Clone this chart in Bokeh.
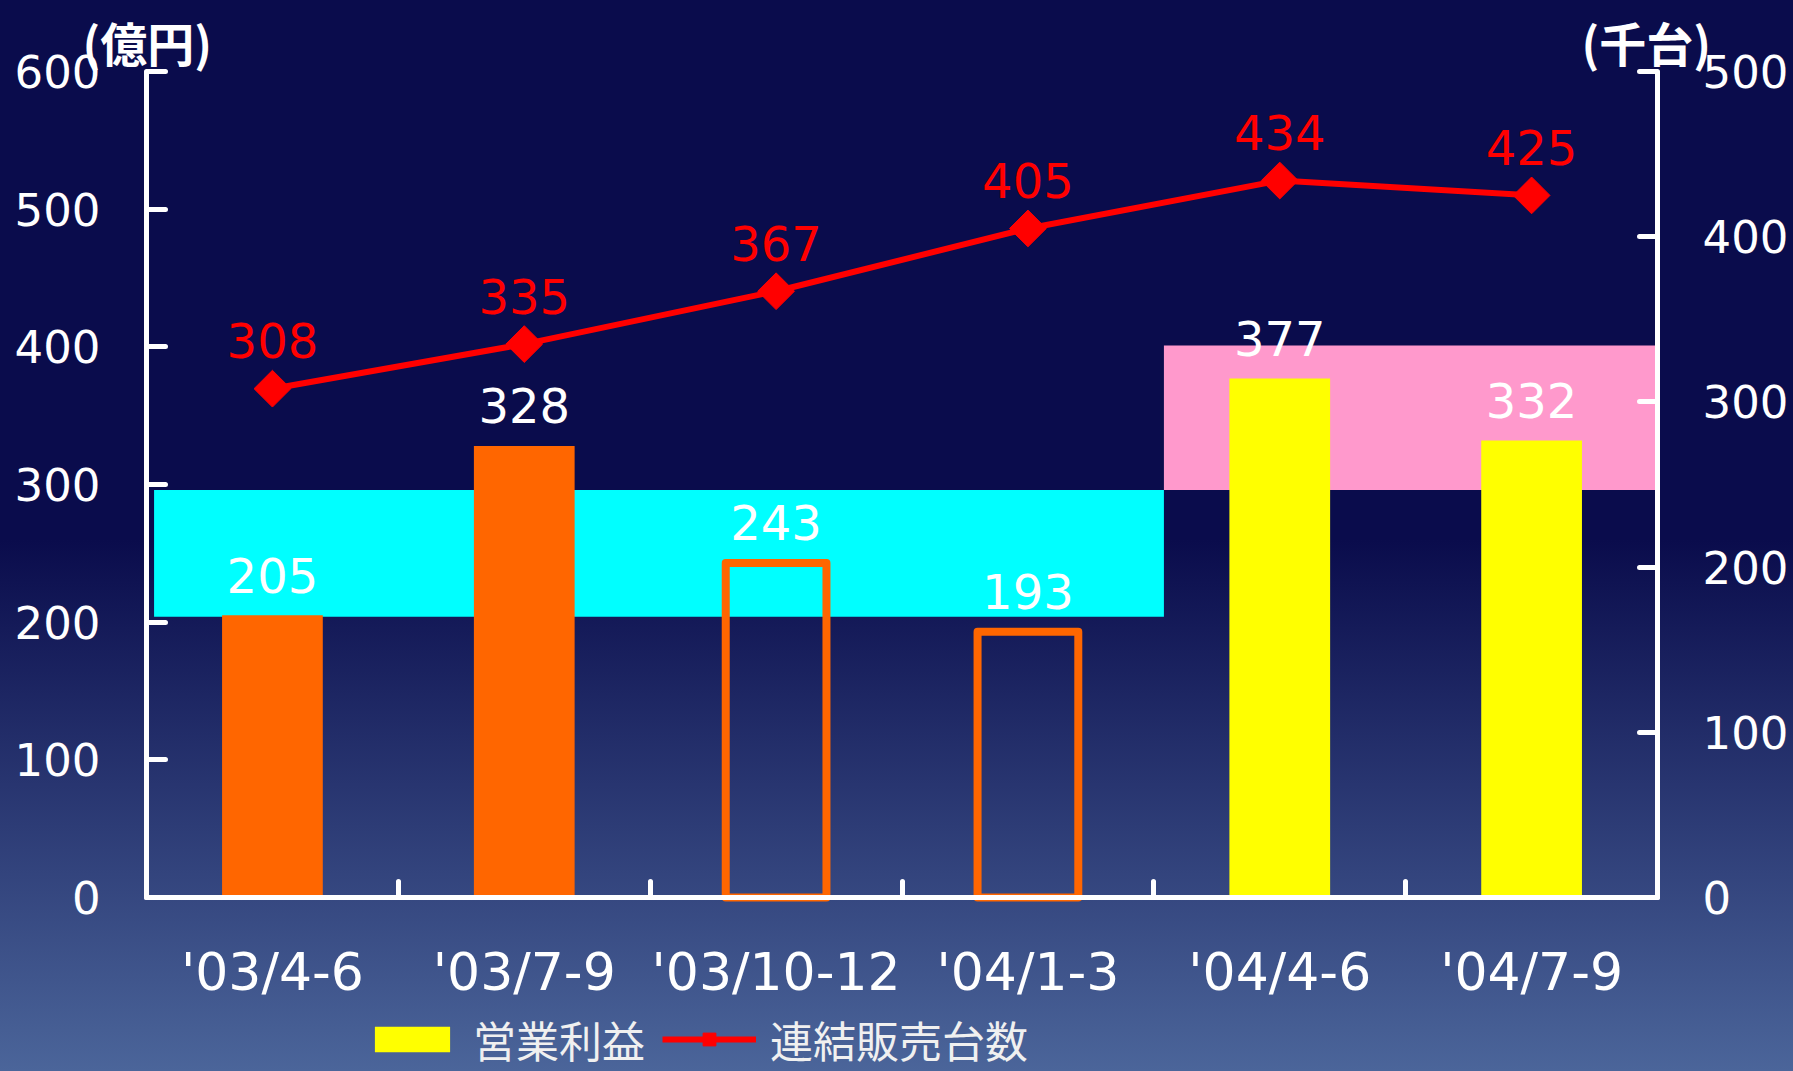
import math
from bokeh.plotting import figure
from bokeh.models import (Range1d, LinearAxis, FixedTicker, Legend, LegendItem,
                          Label, ColumnDataSource)
from bokeh.core.properties import value
from bokeh.embed import file_html
from bokeh.resources import INLINE

# ---------------- data ----------------
categories = ["'03/4-6", "'03/7-9", "'03/10-12", "'04/1-3", "'04/4-6", "'04/7-9"]
operating_profit = [205, 328, 243, 193, 377, 332]      # 億円 (left axis)
units_sold = [308, 335, 367, 405, 434, 425]            # 千台 (right axis)
bar_colors = ["#ff6600", "#ff6600", "#ff6600", "#ff6600", "#ffff00", "#ffff00"]
bar_fill_alpha = [1, 1, 0, 0, 1, 1]
bar_line_alpha = [0, 0, 1, 1, 0, 0]
left_ticks = [0, 100, 200, 300, 400, 500, 600]
right_ticks = [0, 100, 200, 300, 400, 500]
band_left = [0.03, 4.04]
band_right = [4.04, 6.0]
band_bottom = [204, 296]
band_top = [296, 401]
band_colors = ["#00ffff", "#ff99cc"]

xs = [i + 0.5 for i in range(len(categories))]
boundaries = list(range(len(categories) + 1))
n = len(categories)

NUM_FONT = "DejaVu Sans"
JP_FONT = "Noto Sans CJK JP"

# frame covers the whole canvas; axes are pinned inside it
p = figure(width=1793, height=1071, output_backend="svg", toolbar_location=None,
           x_range=Range1d(-0.5798, 6.540), y_range=Range1d(-126.39, 651.57),
           x_axis_type=None, y_axis_type=None, min_border=0)
p.background_fill_color = None
p.border_fill_color = None
p.outline_line_color = None
p.extra_y_ranges = {"units": Range1d(-105.33, 542.98)}

# ---------------- axes ----------------
def style_axis(ax, size):
    ax.axis_line_color = "white"
    ax.axis_line_width = 5
    ax.major_tick_line_color = "white"
    ax.major_tick_line_width = 5
    ax.major_tick_line_cap = "round"
    ax.major_label_text_color = "white"
    ax.major_label_text_font = NUM_FONT
    ax.major_label_text_font_size = size

xaxis = LinearAxis(ticker=FixedTicker(ticks=xs, minor_ticks=boundaries),
                   major_label_overrides={x: c for x, c in zip(xs, categories)},
                   fixed_location=0, bounds=(0, n))
style_axis(xaxis, "52px")
xaxis.major_tick_in = 0
xaxis.major_tick_out = 0
xaxis.minor_tick_in = 16
xaxis.minor_tick_out = 0
xaxis.minor_tick_line_color = "white"
xaxis.minor_tick_line_width = 5
xaxis.minor_tick_line_cap = "round"
xaxis.major_label_standoff = 44
p.add_layout(xaxis, "below")

yaxis = LinearAxis(ticker=FixedTicker(ticks=left_ticks), fixed_location=0,
                   bounds=(left_ticks[0], left_ticks[-1]))
style_axis(yaxis, "45px")
yaxis.major_tick_in = 19
yaxis.major_tick_out = 0
yaxis.minor_tick_line_color = None
yaxis.major_label_standoff = 46
p.add_layout(yaxis, "left")

raxis = LinearAxis(y_range_name="units", ticker=FixedTicker(ticks=right_ticks),
                   fixed_location=n, bounds=(right_ticks[0], right_ticks[-1]))
style_axis(raxis, "45px")
raxis.major_tick_in = 18
raxis.major_tick_out = 0
raxis.minor_tick_line_color = None
raxis.major_label_standoff = 45
p.add_layout(raxis, "right")

# ---------------- bands ----------------
p.quad(left=band_left, right=band_right, bottom=band_bottom, top=band_top,
       fill_color=band_colors, line_color=None)

# ---------------- bars ----------------
bsrc = ColumnDataSource(dict(x=xs, top=operating_profit, color=bar_colors,
                             fa=bar_fill_alpha, la=bar_line_alpha,
                             label=[str(v) for v in operating_profit]))
bars = p.vbar(x="x", top="top", bottom=0, width=0.4, source=bsrc,
              fill_color="color", line_color="color", fill_alpha="fa",
              line_alpha="la", line_width=8, line_join="round")
p.text(x="x", y="top", text="label", source=bsrc, text_align="center",
       text_baseline="middle", y_offset=-40, text_color="white",
       text_font=value(NUM_FONT), text_font_size="48px")

# ---------------- line ----------------
usrc = ColumnDataSource(dict(x=xs, y=units_sold, label=[str(v) for v in units_sold]))
line = p.line("x", "y", source=usrc, y_range_name="units", line_color="#ff0000",
              line_width=6)
marks = p.scatter("x", "y", source=usrc, y_range_name="units", marker="square",
                  angle=math.pi / 4, size=26, fill_color="#ff0000",
                  line_color="#ff0000")
p.text(x="x", y="y", text="label", source=usrc, y_range_name="units",
       text_align="center", text_baseline="middle", y_offset=-48,
       text_color="#ff0000", text_font=value(NUM_FONT), text_font_size="48px")

# ---------------- titles ----------------
p.add_layout(Label(x=-0.254, y=622, text="(億円)",
                   text_font=JP_FONT, text_font_size="47px", text_font_style="bold",
                   text_color="white", text_baseline="middle", text_align="left"))
p.add_layout(Label(x=5.698, y=622, text="(千台)",
                   text_font=JP_FONT, text_font_size="47px", text_font_style="bold",
                   text_color="white", text_baseline="middle", text_align="left"))

# ---------------- legend ----------------
legend = Legend(items=[LegendItem(label="営業利益", renderers=[bars], index=4),
                       LegendItem(label="連結販売台数", renderers=[line, marks])],
                orientation="horizontal", location=(365, 1),
                background_fill_alpha=0, border_line_color=None,
                padding=0, margin=0, spacing=17, label_standoff=14,
                glyph_width=94, glyph_height=32,
                label_text_font=JP_FONT, label_text_font_size="43px",
                label_text_color="#f0f0f0")
p.add_layout(legend, "center")

template = """{% block postamble %}<style>
html { background: #4b659a linear-gradient(to bottom, #0a0c4c 0px, #0a0c4c 540px, #4b659a 1071px) no-repeat; }
</style>{% endblock %}"""

open("out.html", "w").write(file_html(p, INLINE, template=template))
